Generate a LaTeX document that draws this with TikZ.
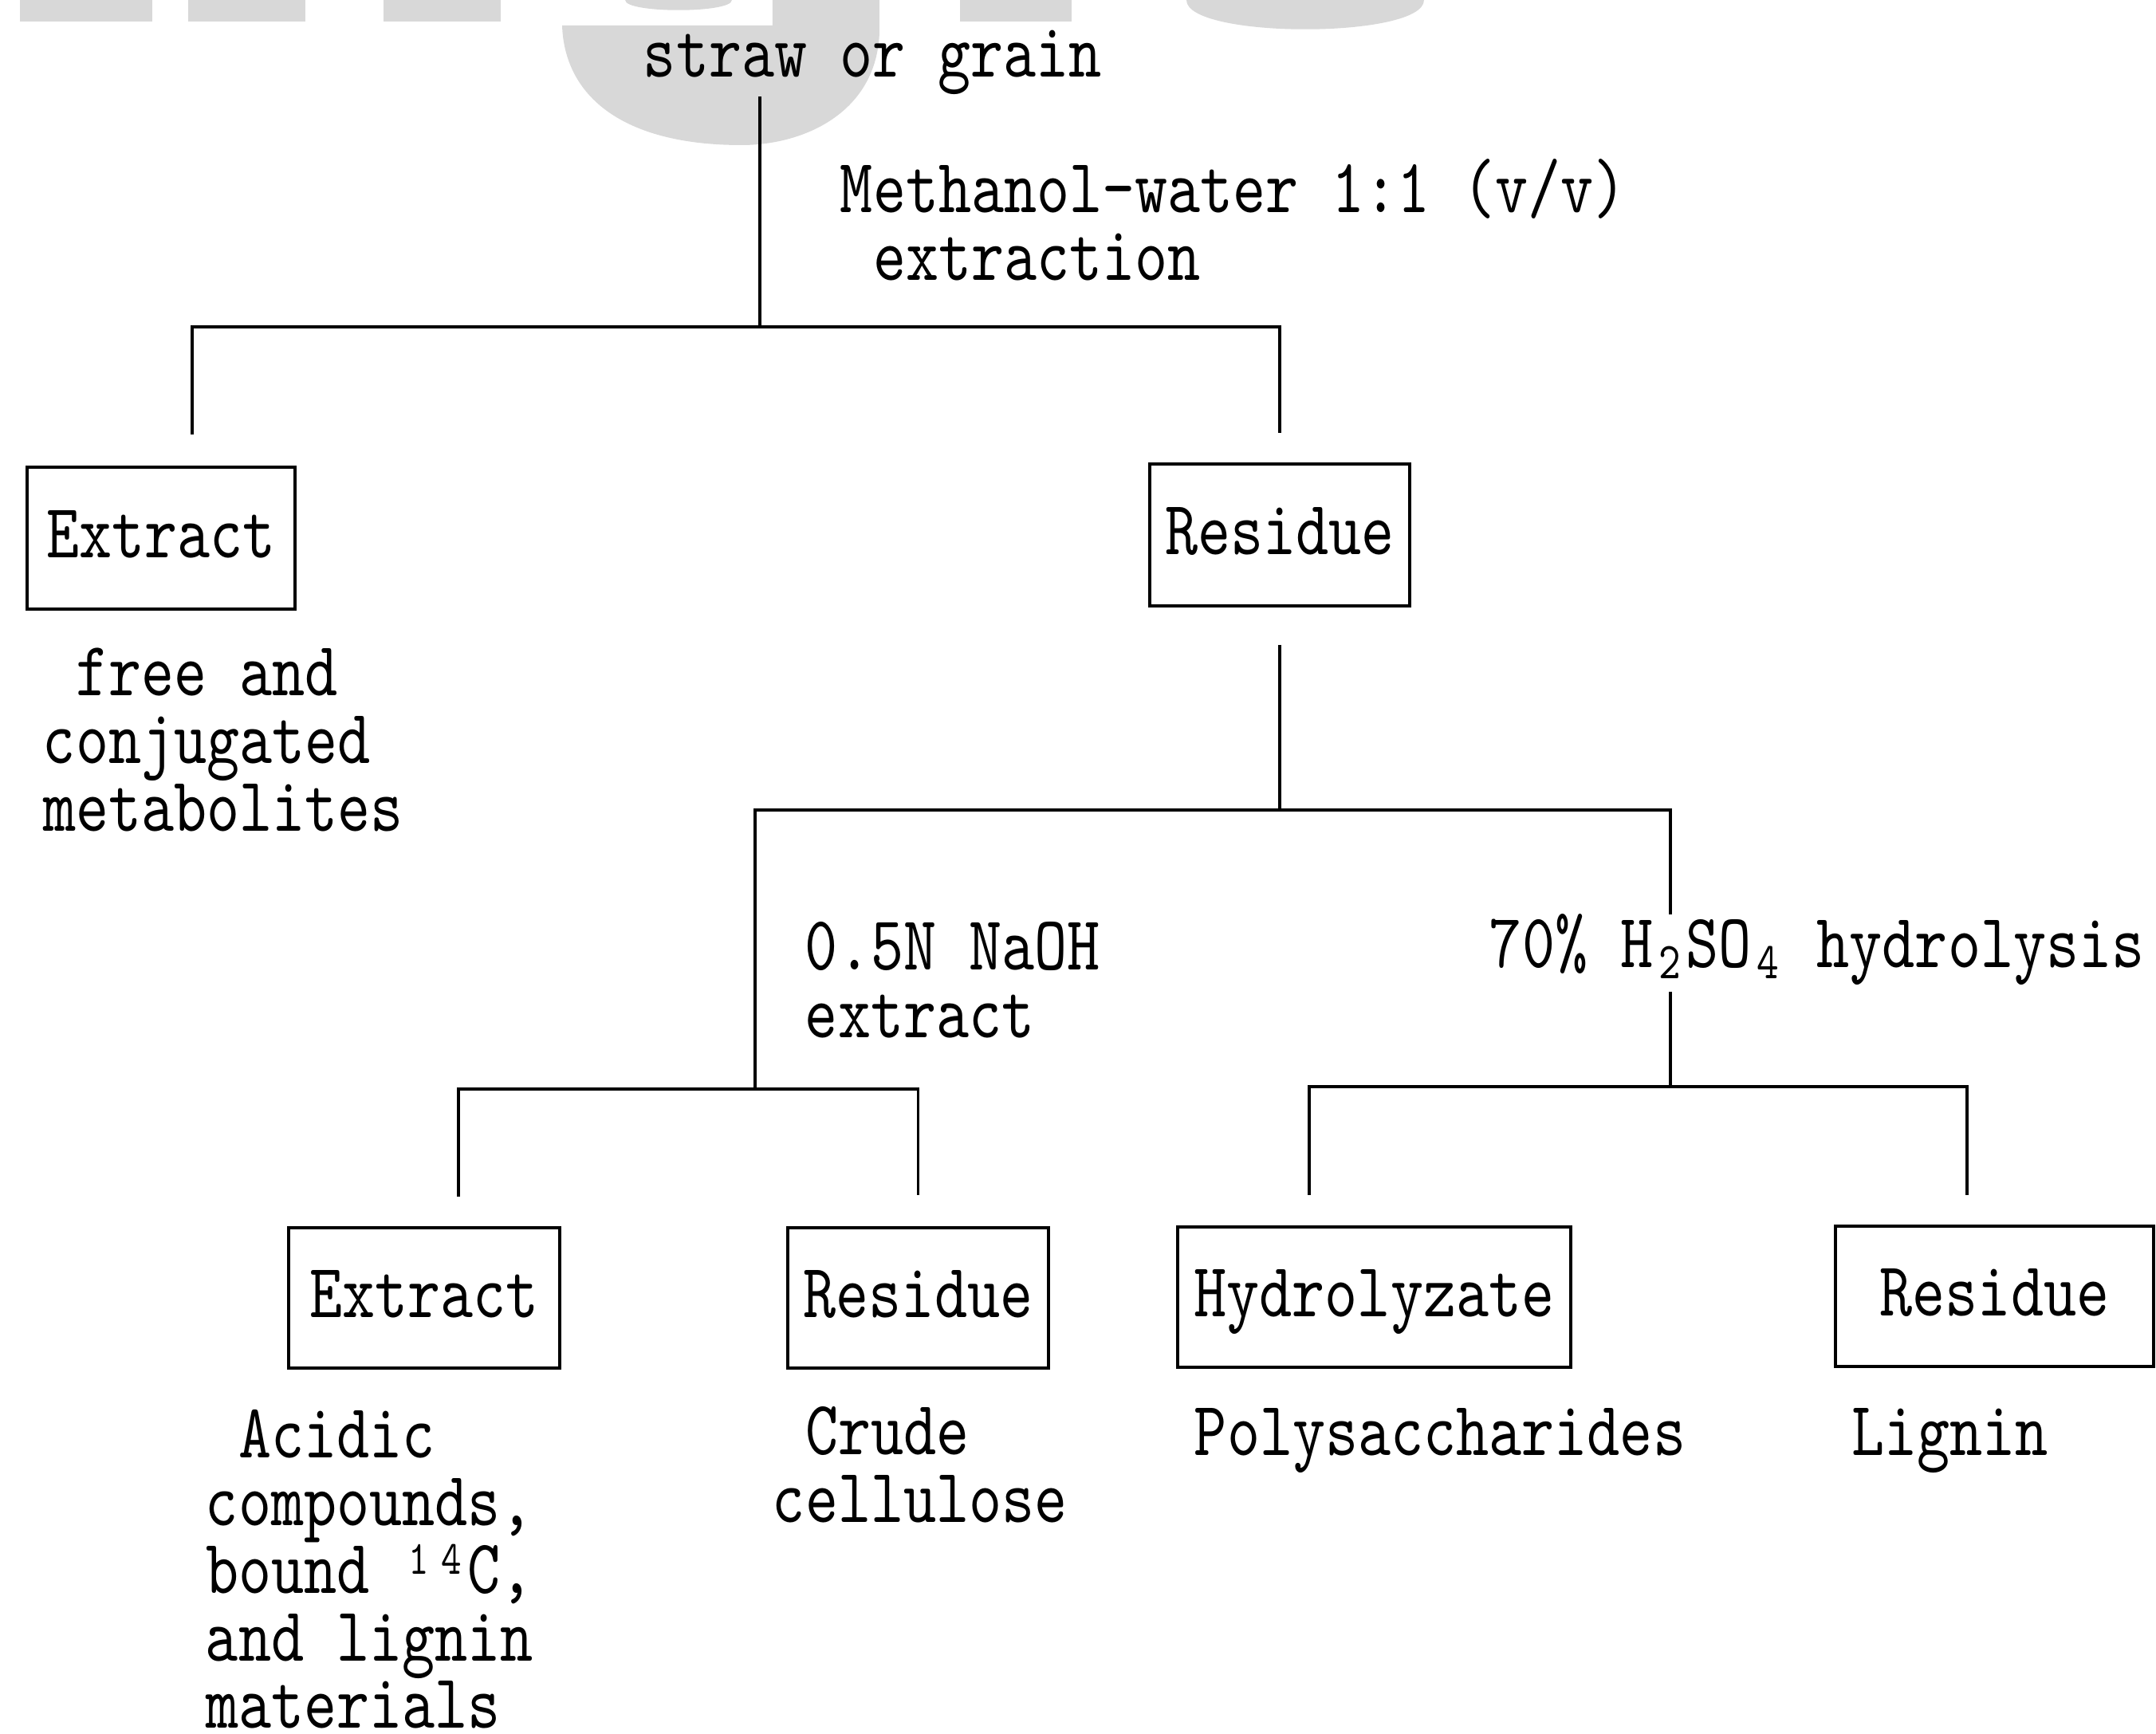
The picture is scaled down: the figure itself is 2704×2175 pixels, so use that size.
\documentclass[tikz,border=0pt]{standalone}
\usepackage{fontspec}
\newfontfamily\mono{lmmono10-regular.otf}[FakeStretch=0.81]
\usetikzlibrary{calc}
\definecolor{wm}{RGB}{216,216,216}
\newlength\cellw \setlength\cellw{4.108pt}
\newcommand\fsz{\fontsize{9.66pt}{8.47pt}\selectfont\mono}
\newcommand\stack[1]{\vtop{\baselineskip=8.47pt\lineskiplimit=-20pt\relax#1}}
\newcommand\subsc[1]{\makebox[\cellw][c]{\raisebox{-1.4pt}{\fontsize{6.5pt}{6pt}\selectfont#1}}}
\newcommand\supsc[1]{\makebox[\cellw][c]{\raisebox{2.4pt}{\fontsize{6.0pt}{6pt}\selectfont#1}}}
\tikzset{
  txt/.style={inner sep=0pt, anchor=base west, font=\fsz},
  box/.style={draw, line width=0.4pt, inner sep=0pt, font=\fsz, text height=5.5pt, text depth=0.5pt},
  conn/.style={line width=0.35pt},
}
\begin{document}
\begin{tikzpicture}[x=0.1pt,y=-0.1pt]
\useasboundingbox (0,0) rectangle (2704,2175);
% faint watermark remnants at the top edge
\fill[wm] (25,0) rectangle (191,27);
\fill[wm] (236,0) rectangle (383,27);
\fill[wm] (481,0) rectangle (628,27);
\fill[wm] (784,0) .. controls (784,17) and (918,17) .. (918,0) -- cycle;
\fill[wm] (705,32) -- (969,32) -- (969,0) -- (1103,0) -- (1103,40) .. controls (1100,140) and (1010,182) .. (930,182) .. controls (780,182) and (708,120) .. (705,32) -- cycle;
\fill[wm] (1204,0) rectangle (1344,27);
\fill[wm] (1488,0) .. controls (1488,49) and (1786,49) .. (1786,0) -- cycle;

% texts
\node[txt] (straw) at (805,97) {straw or grain};
\node[txt] (meth) at (1052,267) {\stack{\hbox{Methanol-water 1:1 (v/v)}\hbox{\ extraction}}};
\node[txt] (free) at (52,873) {\stack{\hbox{\ free and}\hbox{conjugated}\hbox{metabolites}}};
\node[txt] (naoh) at (1008,1217) {\stack{\hbox{0.5N NaOH}\hbox{extract}}};
\node[txt, inner ysep=0.6pt, text height=5.9pt, text depth=2.2pt] (acid) at (1866,1214) {70\% H\subsc{2}SO\subsc{4} hydrolysis};
\node[txt] (acidic) at (256,1829) {\stack{\hbox{\ Acidic}\hbox{compounds,}\hbox{bound \supsc{1}\supsc{4}C,}\hbox{and lignin}\hbox{materials}}};
\node[txt] (crude) at (967,1825) {\stack{\hbox{\ Crude}\hbox{cellulose}}};
\node[txt] (poly) at (1496,1826) {Polysaccharides};
\node[txt] (lignin) at (2320,1826) {Lignin};

% boxes
\node[box, minimum width=33.6pt, minimum height=17.8pt] (ext1) at (202,675) {Extract};
\node[box, minimum width=32.6pt, minimum height=17.8pt] (res1) at (1605,671) {Residue};
\node[box, minimum width=34.0pt, minimum height=17.6pt] (ext2) at (532,1628) {Extract};
\node[box, minimum width=32.7pt, minimum height=17.6pt] (res2) at (1151.5,1628) {Residue};
\node[box, minimum width=49.3pt, minimum height=17.6pt] (hyd) at (1723.5,1627) {Hydrolyzate};
\node[box, minimum width=39.9pt, minimum height=17.6pt] (res3) at (2501.5,1626) {Residue};

% branch points and free leg ends
\coordinate (b1) at (953,410);
\coordinate (e1in) at (241,545);
\coordinate (b2) at (1605,1016);
\coordinate (b3) at (947,1366);
\coordinate (e2in) at (575,1501);
\coordinate (b4) at (2095,1363);
\coordinate (h1in) at (1642,1499);
\coordinate (r3in) at (2467,1499);

% connectors
\draw[conn] (straw.south -| b1) -- (b1);
\draw[conn] (b1) -| (e1in);
\draw[conn] (b1) -| ([yshift=3.7pt]res1.north);
\draw[conn] ([yshift=-4.7pt]res1.south) -- (b2);
\draw[conn] (b2) -| (b3);
\draw[conn] (b2) -| (acid.north -| b4);
\draw[conn] (acid.south -| b4) -- (b4);
\draw[conn] (b3) -| (e2in);
\draw[conn] (b3) -| ([yshift=3.9pt]res2.north);
\draw[conn] (b4) -| (h1in);
\draw[conn] (b4) -| (r3in);
\end{tikzpicture}
\end{document}
